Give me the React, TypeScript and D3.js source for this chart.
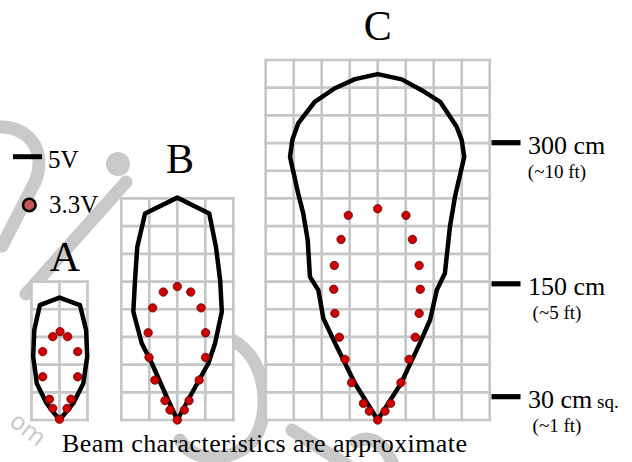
import React from 'react';
import * as d3 from 'd3';

type Pt = [number, number];

// beam patterns, in grid cells (1 cell = 30 cm); x is offset from the sensor axis
const beamNames = ['A', 'B', 'C'];
const gridCols = [2, 4, 8];
const gridRows = [5, 8, 13];

const outlineA: Pt[] = [
  [0, 0], [-0.46, 0.6], [-0.81, 1.32], [-0.94, 2.29], [-0.9, 3.25], [-0.7, 4.15], [0, 4.42],
  [0.73, 4.15], [0.95, 3.25], [0.99, 2.29], [0.85, 1.32], [0.49, 0.6], [0, 0],
];
const outlineB: Pt[] = [
  [0, 0], [-0.38, 0.84], [-0.91, 2.05], [-1.27, 2.77], [-1.57, 3.91], [-1.51, 5.05], [-1.43, 6.25],
  [-1.15, 7.46], [0, 8.03], [1.14, 7.46], [1.38, 6.25], [1.53, 5.05], [1.59, 3.91], [1.35, 2.77],
  [1.11, 2.05], [0.45, 0.84], [0, 0],
];
const outlineC: Pt[] = [
  [0, 0], [-0.81, 1.32], [-1.52, 2.77], [-1.94, 3.67], [-2.12, 4.69], [-2.42, 5.17], [-2.5, 6.5],
  [-2.66, 7.46], [-2.84, 8.18], [-3.13, 9.5], [-3.05, 10.11], [-2.84, 10.71], [-2.25, 11.49],
  [-1.53, 11.98], [-0.81, 12.31], [0, 12.49], [0.86, 12.3], [1.57, 11.91], [2.23, 11.49],
  [2.82, 10.59], [3.0, 10.11], [3.09, 9.5], [2.76, 8.06], [2.58, 6.98], [2.4, 5.3], [2.11, 4.69],
  [1.87, 3.61], [1.45, 2.65], [0.83, 1.32], [0, 0],
];

const dotsA: Pt[] = [
  [0, 0.03], [-0.24, 0.42], [0.27, 0.42], [-0.36, 0.75], [0.41, 0.75], [-0.6, 1.56], [0.65, 1.56],
  [-0.6, 2.47], [0.65, 2.47], [-0.24, 3.01], [0.29, 3.01], [0.02, 3.19],
];
const dotsB: Pt[] = [
  [0, 0], [-0.26, 0.36], [0.25, 0.36], [-0.44, 0.7], [0.42, 0.7], [-0.8, 1.44], [0.78, 1.44],
  [-1.01, 2.26], [1.01, 2.26], [-1.04, 3.15], [1.01, 3.15], [-0.88, 4.05], [0.85, 4.05],
  [-0.5, 4.62], [0.48, 4.62], [0, 4.82],
];
const dotsC: Pt[] = [
  [0, 0], [-0.3, 0.32], [0.26, 0.32], [-0.51, 0.6], [0.46, 0.6], [-0.93, 1.35], [0.83, 1.35],
  [-1.17, 2.19], [1.12, 2.19], [-1.37, 2.99], [1.34, 2.99], [-1.53, 3.85], [1.48, 3.85],
  [-1.57, 4.72], [1.52, 4.72], [-1.55, 5.58], [1.48, 5.58], [-1.31, 6.52], [1.24, 6.52],
  [-1.05, 7.39], [1.01, 7.39], [0, 7.63],
];

const outlines = [outlineA, outlineB, outlineC];
const dots = [dotsA, dotsB, dotsC];

// range labels on the right
const distanceCm = [300, 150, 30];
const distanceFt = ['(~10 ft)', '(~5 ft)', '(~1 ft)'];

const legendLabels = ['5V', '3.3V'];
const caption = 'Beam characteristics are approximate';

const W = 632;
const H = 462;
const CELL_W = 28;
const centers = [59.5, 177.3, 377.7];
const labelX = [65, 180, 377.7];
const serif = 'Liberation Serif, Times New Roman, DejaVu Serif, serif';
const gridColor = '#c6c6c6';
const wmColor = '#c9c9c9';

const txt = (size: number): React.CSSProperties => ({ fontFamily: serif, fontSize: size });

const App: React.FC = () => {
  const y = d3.scaleLinear().domain([0, 13]).range([420, 60]);
  const yCm = d3.scaleLinear().domain([0, 300]).range([424.9, 142.7]);

  const beams = beamNames.map((name, i) => {
    const cols = gridCols[i];
    const rows = gridRows[i];
    const x = d3
      .scaleLinear()
      .domain([-cols / 2, cols / 2])
      .range([centers[i] - (cols * CELL_W) / 2, centers[i] + (cols * CELL_W) / 2]);
    const line = d3
      .line<Pt>()
      .x((d) => x(d[0]))
      .y((d) => y(d[1]));
    return { name, cols, rows, x, path: line(outlines[i]) || '', dots: dots[i], i };
  });

  return (
    <svg width={W} height={H} style={{ position: 'absolute', left: 0, top: 0, background: '#fff' }}>
      {/* faint watermark */}
      <g stroke={wmColor} strokeWidth={13} fill="none" strokeLinecap="round">
        <path d="M -8 127 C 30 124, 46 150, 36 180 L 2 246" />
        <line x1={26} y1={294} x2={126} y2={182} />
        <path d="M 228 338 C 262 352, 272 400, 258 432 C 246 460, 196 468, 180 440" />
        <line x1={292} y1={430} x2={348} y2={466} />
        <path d="M 356 442 Q 378 430 394 466" />
      </g>
      <circle cx={118} cy={164} r={12} fill={wmColor} />
      <text
        x={8}
        y={424}
        fill={wmColor}
        style={{ fontFamily: 'DejaVu Sans, sans-serif', fontSize: 24 }}
        transform="rotate(38 8 424)"
      >
        om
      </text>

      {beams.map((b) => (
        <g key={b.name}>
          <rect
            x={b.x(-b.cols / 2)}
            y={y(b.rows)}
            width={b.x(b.cols / 2) - b.x(-b.cols / 2)}
            height={y(0) - y(b.rows)}
            fill="#fff"
          />
          {d3.range(0, b.cols + 1).map((c) => (
            <line
              key={'v' + c}
              x1={b.x(c - b.cols / 2)}
              x2={b.x(c - b.cols / 2)}
              y1={y(0)}
              y2={y(b.rows)}
              stroke={gridColor}
              strokeWidth={2.7}
              strokeLinecap="square"
            />
          ))}
          {d3.range(0, b.rows + 1).map((r) => (
            <line
              key={'h' + r}
              x1={b.x(-b.cols / 2)}
              x2={b.x(b.cols / 2)}
              y1={y(r)}
              y2={y(r)}
              stroke={gridColor}
              strokeWidth={2.7}
              strokeLinecap="square"
            />
          ))}
          <path d={b.path} fill="none" stroke="#000" strokeWidth={4.5} strokeLinejoin="round" />
          {b.dots.map((d, k) => (
            <circle key={k} cx={b.x(d[0])} cy={y(d[1])} r={4.2} fill="#cc0000" stroke="#6a0000" strokeWidth={0.8} />
          ))}
          <text
            x={labelX[b.i]}
            y={y(b.rows) - (b.i === 2 ? 20 : b.i === 1 ? 25 : 10.5)}
            textAnchor="middle"
            style={txt(42)}
          >
            {b.name}
          </text>
        </g>
      ))}

      {/* legend */}
      <line x1={13} x2={42} y1={156.7} y2={156.7} stroke="#000" strokeWidth={5} />
      <text x={48} y={168} style={txt(25)}>
        {legendLabels[0]}
      </text>
      <circle cx={29.3} cy={205} r={6.3} fill="#c85656" stroke="#000" strokeWidth={2.6} />
      <text x={49} y={213} style={txt(25)}>
        {legendLabels[1]}
      </text>

      {/* distance marks */}
      {distanceCm.map((cm, i) => {
        const ty = yCm(cm);
        return (
          <g key={cm}>
            <rect x={491.5} y={ty - 2.6} width={29} height={5.2} fill="#000" />
            <text x={528} y={ty + 11.2} style={txt(26)}>
              {cm} cm
              {i === distanceCm.length - 1 && <tspan style={txt(19)}> sq.</tspan>}
            </text>
            <text x={557} y={ty + 35.3} textAnchor="middle" style={txt(19)}>
              {distanceFt[i]}
            </text>
          </g>
        );
      })}

      <text x={62} y={452} style={txt(26)} textLength={405} lengthAdjust="spacing">
        {caption}
      </text>
    </svg>
  );
};

export default App;
